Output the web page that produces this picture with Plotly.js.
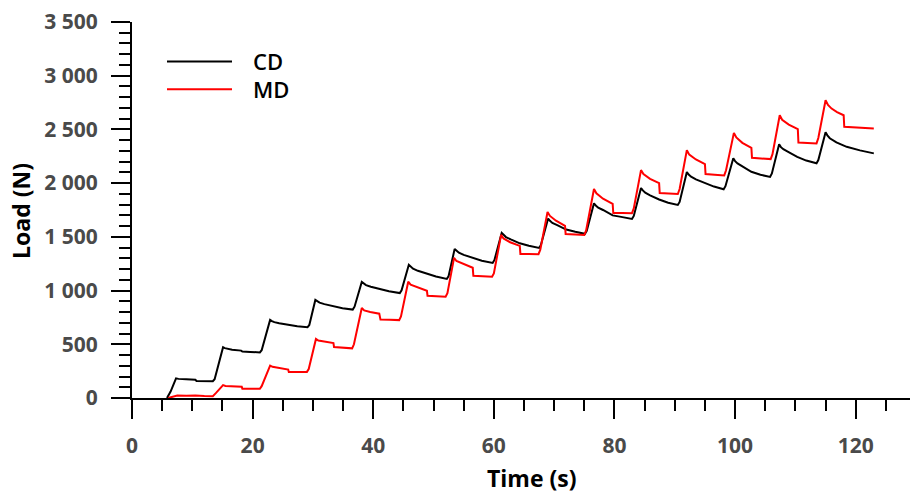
<!DOCTYPE html>
<html>
<head>
<meta charset="utf-8">
<script src="https://cdn.plot.ly/plotly-3.0.1.min.js"></script>
<style>
  html, body { margin: 0; padding: 0; background: #fff; }
  #chart { width: 911px; height: 494px; }
</style>
</head>
<body>
<div id="chart"></div>
<script>
// Cyclic loading test: load (N) against time (s), cross direction vs machine direction.
const seriesNames = ['CD', 'MD'];
const seriesColors = ['#000000', '#ff0000'];

const cdTime = [
  5.8, 6.4, 7.3, 7.7, 9.0, 10.5, 10.7, 13.4,
  13.7, 15.1, 15.4, 15.8, 16.6, 18.1, 18.3, 19.6, 21.2,
  21.5, 22.9, 23.2, 23.6, 24.4, 25.9, 27.4, 29.1,
  29.4, 30.4, 30.7, 31.1, 31.9, 33.4, 34.9, 36.6,
  36.9, 38.1, 38.4, 38.8, 39.6, 41.1, 42.6, 44.4,
  44.7, 45.9, 46.2, 46.6, 47.4, 48.9, 50.4, 52.2,
  52.5, 53.5, 53.8, 54.2, 55.0, 56.5, 58.0, 59.8,
  60.1, 61.3, 61.6, 62.0, 62.8, 64.3, 65.8, 67.5,
  67.8, 69.0, 69.3, 69.7, 70.5, 72.0, 73.5, 75.1,
  75.4, 76.6, 76.9, 77.3, 78.1, 79.7, 81.1, 82.9,
  83.2, 84.4, 84.7, 85.1, 85.9, 87.4, 88.9, 90.5,
  90.8, 92.0, 92.3, 92.7, 93.5, 95.0, 96.5, 98.1,
  98.4, 99.7, 100.0, 100.4, 101.2, 102.7, 104.2, 105.8,
  106.1, 107.3, 107.6, 108.0, 108.8, 110.3, 111.8, 113.5,
  113.8, 115.0, 115.3, 115.7, 116.8, 118.5, 120.7, 123.0
];
const cdLoad = [
  0, 60, 183, 178, 174, 170, 158, 156,
  175, 472, 464, 457, 450, 441, 433, 429, 424,
  445, 727, 716, 706, 695, 680, 667, 658,
  680, 913, 900, 888, 874, 852, 836, 823,
  850, 1080, 1064, 1051, 1035, 1012, 993, 977,
  1003, 1240, 1221, 1204, 1184, 1154, 1131, 1108,
  1135, 1388, 1369, 1352, 1332, 1302, 1278, 1257,
  1285, 1537, 1516, 1498, 1477, 1440, 1417, 1397,
  1425, 1670, 1649, 1630, 1609, 1568, 1547, 1528,
  1555, 1813, 1791, 1772, 1750, 1700, 1686, 1667,
  1695, 1955, 1932, 1911, 1886, 1848, 1818, 1797,
  1825, 2103, 2080, 2060, 2035, 2002, 1968, 1943,
  1972, 2231, 2205, 2184, 2156, 2106, 2078, 2058,
  2090, 2361, 2335, 2316, 2292, 2245, 2210, 2185,
  2215, 2474, 2445, 2418, 2379, 2338, 2305, 2277
];

const mdTime = [
  6.0, 7.0, 7.5, 9.0, 10.5, 12.0, 13.4,
  13.9, 15.1, 15.5, 16.5, 18.2, 18.3, 19.5, 21.2,
  21.5, 22.9, 23.3, 24.3, 25.9, 26.0, 27.5, 29.0,
  29.3, 30.5, 30.9, 31.9, 33.4, 33.5, 35.0, 36.5,
  36.8, 38.1, 38.5, 39.5, 41.0, 41.2, 42.7, 44.3,
  44.6, 45.8, 46.2, 47.3, 48.9, 49.0, 50.5, 52.0,
  52.3, 53.4, 53.8, 54.9, 56.5, 56.6, 58.0, 59.7,
  60.0, 61.2, 61.6, 62.7, 64.3, 64.4, 65.8, 67.4,
  67.7, 68.9, 69.3, 70.3, 71.8, 71.9, 73.5, 75.0,
  75.3, 76.6, 77.0, 78.1, 79.7, 79.8, 81.3, 82.9,
  83.2, 84.4, 84.8, 85.9, 87.4, 87.5, 89.0, 90.5,
  90.8, 92.0, 92.4, 93.5, 95.0, 95.1, 96.6, 98.2,
  98.5, 99.8, 100.2, 101.2, 102.7, 102.8, 104.3, 105.9,
  106.2, 107.4, 107.8, 108.9, 110.4, 110.5, 112.0, 113.5,
  113.8, 115.0, 115.4, 116.0, 116.9, 118.0, 118.1, 119.5, 121.0, 123.0
];
const mdLoad = [
  0, 18, 23, 20, 24, 18, 17,
  45, 120, 112, 108, 104, 86, 84, 85,
  110, 302, 290, 280, 265, 241, 240, 243,
  270, 550, 535, 525, 512, 474, 468, 462,
  500, 837, 815, 800, 785, 730, 728, 725,
  760, 1082, 1055, 1030, 998, 952, 947, 942,
  975, 1304, 1275, 1248, 1212, 1137, 1132, 1128,
  1160, 1518, 1485, 1450, 1416, 1341, 1340, 1339,
  1380, 1731, 1695, 1650, 1602, 1527, 1522, 1518,
  1560, 1945, 1905, 1855, 1806, 1722, 1722, 1720,
  1765, 2121, 2085, 2040, 2000, 1908, 1903, 1899,
  1945, 2307, 2265, 2220, 2177, 2084, 2078, 2072,
  2120, 2468, 2425, 2375, 2329, 2236, 2230, 2224,
  2270, 2632, 2590, 2545, 2502, 2379, 2374, 2370,
  2420, 2772, 2728, 2694, 2662, 2632, 2524, 2518, 2513, 2509
];

const xTitle = 'Time (s)';
const yTitle = 'Load (N)';

const traces = [
  { x: cdTime, y: cdLoad, name: seriesNames[0], type: 'scatter', mode: 'lines',
    line: { color: seriesColors[0], width: 2 }, cliponaxis: true },
  { x: mdTime, y: mdLoad, name: seriesNames[1], type: 'scatter', mode: 'lines',
    line: { color: seriesColors[1], width: 2 }, cliponaxis: true }
];

const FONT = 'Open Sans, sans-serif';
const tickFont = { family: FONT, size: 21, color: '#4a4a4a', weight: 700 };
const axisCommon = {
  ticks: 'outside', ticklen: 19, tickwidth: 2, tickcolor: '#000',
  showline: true, linecolor: '#000', linewidth: 2,
  showgrid: false, zeroline: false, tickfont: tickFont
};

// plot area spans x 132..910, y 21.5..398.5 px
const L = 132, T = 21.5, W = 778, H = 377;
const px = v => (v - L) / W;
const py = v => (T + H - v) / H;

// hand-drawn legend: long line samples with labels to the right
const legendRows = [61, 89];
const shapes = legendRows.map((yy, i) => ({
  type: 'line', xref: 'paper', yref: 'paper',
  x0: px(167), x1: px(232), y0: py(yy), y1: py(yy),
  line: { color: seriesColors[i], width: 2 }
}));
const annotations = legendRows.map((yy, i) => ({
  xref: 'paper', yref: 'paper', x: px(251), y: py(yy),
  xanchor: 'left', yanchor: 'middle', showarrow: false,
  text: seriesNames[i], font: { family: FONT, size: 22, color: '#000', weight: 600 }
}));
annotations.push({
  xref: 'paper', yref: 'paper', x: px(532), y: py(479),
  xanchor: 'center', yanchor: 'middle', showarrow: false,
  text: xTitle, font: { family: FONT, size: 23, color: '#000', weight: 700 }
});
annotations.push({
  xref: 'paper', yref: 'paper', x: px(21), y: py(211),
  xanchor: 'center', yanchor: 'middle', showarrow: false, textangle: -90,
  text: yTitle, font: { family: FONT, size: 23, color: '#000', weight: 700 }
});

const layout = {
  width: 911, height: 494,
  margin: { l: 132, r: 1, t: 21.5, b: 95.5, pad: 0 },
  paper_bgcolor: '#fff', plot_bgcolor: '#fff',
  separators: '. ',
  showlegend: false,
  font: { family: FONT },
  xaxis: Object.assign({}, axisCommon, {
    range: [0, 129], tick0: 0, dtick: 20, ticklabelstandoff: 9,
    minor: { dtick: 5, tick0: 0, ticks: 'outside', ticklen: 11, tickwidth: 2, tickcolor: '#000', showgrid: false }
  }),
  yaxis: Object.assign({}, axisCommon, {
    range: [0, 3500], tick0: 0, dtick: 500, tickformat: ',d', ticklabelstandoff: 9,
    minor: { dtick: 100, tick0: 0, ticks: 'outside', ticklen: 11, tickwidth: 2, tickcolor: '#000', showgrid: false }
  }),
  shapes: shapes,
  annotations: annotations
};

Plotly.newPlot('chart', traces, layout, { staticPlot: true, displayModeBar: false });
</script>
</body>
</html>
